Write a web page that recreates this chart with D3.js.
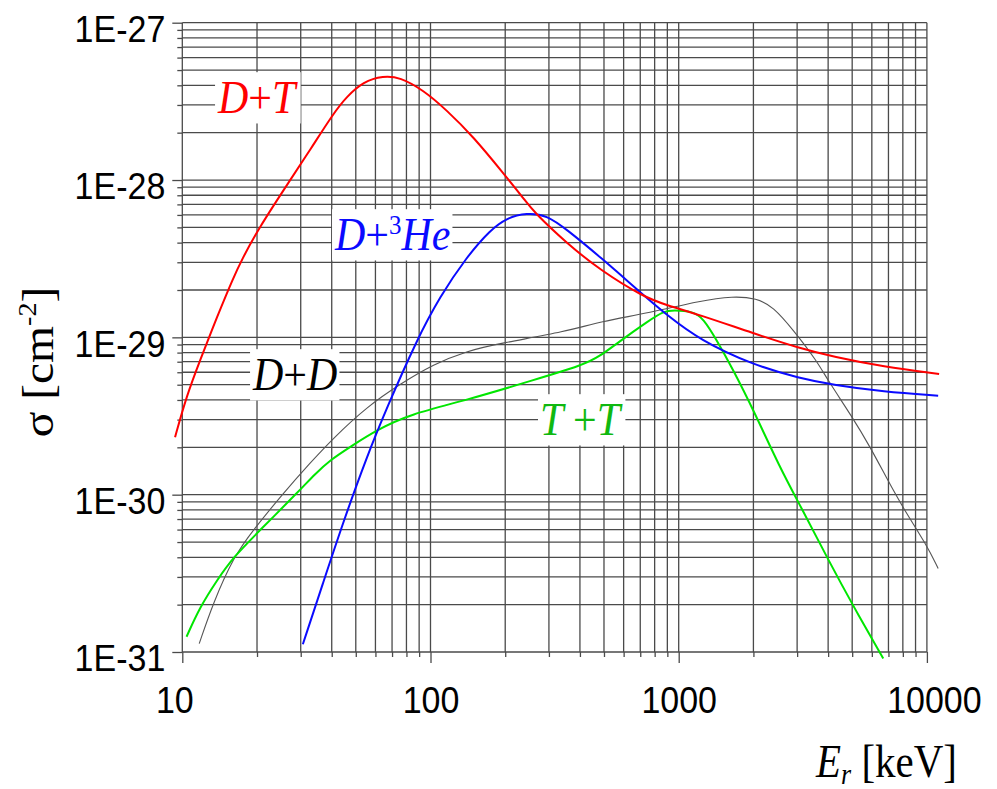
<!DOCTYPE html>
<html>
<head>
<meta charset="utf-8">
<script src="https://cdn.jsdelivr.net/npm/d3@7"></script>
<style>
  body { margin: 0; background: #fff; }
  svg { display: block; }
  .tick text { font-family: "Liberation Sans", Arial, sans-serif; font-size: 34px; fill: #000; }
  .serif { font-family: "Liberation Serif", "Times New Roman", serif; }
</style>
</head>
<body>
<svg id="chart" width="997" height="789"></svg>
<script>
// energy (keV) and cross-section (cm^2)
const energyDT = [9.35, 10.4, 11.8, 13.8, 16.1, 17.35, 20.1, 27.2, 32.7, 40.6, 46.0, 53.6, 64.5, 75.4, 93.5, 116, 149, 197, 240, 260, 354, 482, 720, 895, 1218, 2000, 3080, 4200, 6670, 11200];
const sigmaDT = [2.32e-30, 4.24e-30, 7.18e-30, 1.35e-29, 2.42e-29, 3.10e-29, 4.81e-29, 1.0e-28, 1.55e-28, 2.65e-28, 3.39e-28, 4.22e-28, 4.60e-28, 4.50e-28, 3.73e-28, 2.79e-28, 1.88e-28, 1.10e-28, 7.46e-29, 6.29e-29, 3.96e-29, 2.68e-29, 1.81e-29, 1.60e-29, 1.39e-29, 1.06e-29, 8.51e-30, 7.53e-30, 6.50e-30, 5.85e-30];

const energyDHe = [30.6, 37.0, 44.5, 55.3, 66.6, 88.0, 109, 140, 174, 203, 244, 294, 354, 482, 720, 895, 1218, 2000, 3080, 4200, 6670, 11100];
const sigmaDHe = [1.12e-31, 2.78e-31, 6.70e-31, 1.73e-30, 3.55e-30, 9.61e-30, 1.81e-29, 3.25e-29, 4.81e-29, 5.75e-29, 6.18e-29, 5.99e-29, 4.85e-29, 3.25e-29, 1.86e-29, 1.39e-29, 9.61e-30, 6.67e-30, 5.49e-30, 4.98e-30, 4.51e-30, 4.26e-30];

const energyDD = [11.7, 13.3, 16.1, 19.3, 25.5, 32.7, 40.6, 55.3, 75.4, 103, 140, 190, 354, 482, 766, 1218, 1660, 2060, 2400, 2900, 3600, 4000, 4980, 5900, 6890, 8030, 9980, 11100];
const sigmaDD = [1.13e-31, 2.04e-31, 4.03e-31, 5.96e-31, 1.02e-30, 1.59e-30, 2.29e-30, 3.61e-30, 5.05e-30, 6.76e-30, 8.18e-30, 9.16e-30, 1.09e-29, 1.26e-29, 1.43e-29, 1.71e-29, 1.83e-29, 1.77e-29, 1.57e-29, 1.11e-29, 7.1e-30, 5.3e-30, 3.15e-30, 2.02e-30, 1.27e-30, 8.19e-31, 4.79e-31, 3.40e-31];

const energyTT = [10.4, 11.8, 13.8, 16.1, 20.6, 29.8, 34.2, 39.4, 47.4, 60.7, 82.7, 140, 260, 413, 482, 563, 766, 867, 951, 1145, 1256, 1423, 1660, 2000, 2560, 3080, 4070, 5050, 6670];
const sigmaTT = [1.25e-31, 1.94e-31, 2.86e-31, 4.03e-31, 5.96e-31, 1.07e-30, 1.35e-30, 1.66e-30, 2.01e-30, 2.58e-30, 3.25e-30, 3.99e-30, 5.35e-30, 6.67e-30, 7.6e-30, 9.16e-30, 1.29e-29, 1.46e-29, 1.49e-29, 1.46e-29, 1.32e-29, 9.61e-30, 6.19e-30, 3.45e-30, 1.48e-30, 8.59e-31, 3.67e-31, 1.96e-31, 9.1e-32];

const xMajor = [10, 100, 1000, 10000];
const yMajor = [1e-31, 1e-30, 1e-29, 1e-28, 1e-27];

const svg = d3.select("#chart");

const x = d3.scaleLog().domain([10, 10000]).range([182.3, 926.9]);
const y = d3.scaleLog().domain([1e-31, 1e-27]).range([652, 22.7]);

const xAll = x.ticks();
const yAll = y.ticks();
const xMinor = xAll.filter(v => !xMajor.includes(v));
const yMinor = yAll.filter(v => !yMajor.some(m => Math.abs(m - v) / m < 1e-6));

// grid
const grid = svg.append("g").attr("stroke", "#4a4a4a").attr("stroke-width", 1.3);
grid.selectAll("line.v").data(xAll).join("line")
    .attr("class", "v")
    .attr("x1", d => x(d)).attr("x2", d => x(d))
    .attr("y1", y.range()[1]).attr("y2", y.range()[0]);
grid.selectAll("line.h").data(yAll).join("line")
    .attr("class", "h")
    .attr("x1", x.range()[0]).attr("x2", x.range()[1])
    .attr("y1", d => y(d)).attr("y2", d => y(d));

// axes: major ticks with labels, minor ticks without
const xAxis = svg.append("g").attr("transform", `translate(0,${y.range()[0]})`)
    .call(d3.axisBottom(x).tickValues(xMajor).tickSize(11).tickFormat(d3.format("d")));
svg.append("g").attr("transform", `translate(0,${y.range()[0]})`)
    .call(d3.axisBottom(x).tickValues(xMinor).tickSize(5).tickFormat(""));
xAxis.selectAll(".tick text")
    .attr("y", 31.5)
    .attr("transform", "scale(1,1.1)")
    .attr("dx", (d, i) => i === 0 ? -8 : i === xMajor.length - 1 ? 7 : 0);

const yAxis = svg.append("g").attr("transform", `translate(${x.range()[0]},0)`)
    .call(d3.axisLeft(y).tickValues(yMajor).tickSize(10).tickPadding(7)
        .tickFormat(d => "1E-" + (-Math.round(Math.log10(d)))));
svg.append("g").attr("transform", `translate(${x.range()[0]},0)`)
    .call(d3.axisLeft(y).tickValues(yMinor).tickSize(5).tickFormat(""));
yAxis.selectAll(".tick text").attr("dy", "0.5em").attr("transform", "scale(1,1.1)");

svg.selectAll(".domain").remove();
svg.selectAll(".tick line").attr("stroke", "#4a4a4a").attr("stroke-width", 1.3);

// curve labels on white boxes
function label(px, py, color, parts) {
    const g = svg.append("g").attr("transform", `translate(${px},${py}) scale(1,1.1)`);
    const t = g.append("text").attr("class", "serif").attr("font-size", 42).attr("fill", color);
    parts.forEach(p => {
        const s = t.append("tspan").text(p.t)
            .attr("font-style", p.up ? "normal" : "italic");
        if (p.size) s.attr("font-size", p.size);
        if (p.dy) s.attr("dy", p.dy);
    });
    const b = t.node().getBBox();
    g.insert("rect", "text")
        .attr("x", b.x - 2).attr("y", b.y)
        .attr("width", b.width + 4).attr("height", b.height)
        .attr("fill", "#fff");
}
label(218, 113, "#ff0000", [{t: "D"}, {t: "+", up: true}, {t: "T"}]);
label(335, 250, "#0a0aff", [{t: "D"}, {t: "+", up: true}, {t: "3", up: true, size: 25, dy: -15}, {t: "He", dy: 15}]);
label(253, 390, "#000", [{t: "D"}, {t: "+", up: true}, {t: "D"}]);
label(540, 435, "#10b810", [{t: "T "}, {t: "+", up: true}, {t: "T"}]);

// curves
const line = d3.line()
    .x(d => x(d[0]))
    .y(d => y(d[1]))
    .curve(d3.curveBasis);

const series = [
    {e: energyDD, s: sigmaDD, color: "#555", w: 1.1},
    {e: energyTT, s: sigmaTT, color: "#00e600", w: 2},
    {e: energyDHe, s: sigmaDHe, color: "#0a0aff", w: 2},
    {e: energyDT, s: sigmaDT, color: "#ff0000", w: 2}
];
svg.append("g").selectAll("path").data(series).join("path")
    .attr("d", d => line(d.e.map((v, i) => [v, d.s[i]])))
    .attr("fill", "none")
    .attr("stroke", d => d.color)
    .attr("stroke-width", d => d.w);

// axis titles
const yt = svg.append("text").attr("class", "serif")
    .attr("transform", "translate(53,362) rotate(-90) scale(1.08,1)")
    .attr("text-anchor", "middle").attr("font-size", 44);
yt.append("tspan").text("σ  [cm");
yt.append("tspan").text("-2").attr("font-size", 26).attr("dy", -17);
yt.append("tspan").text("]").attr("dy", 17);

const xt = svg.append("g").attr("transform", "translate(816,777) scale(1,1.12)");
const xtt = xt.append("text").attr("class", "serif").attr("font-size", 41);
xtt.append("tspan").text("E").attr("font-style", "italic");
xtt.append("tspan").text("r").attr("font-style", "italic").attr("font-size", 26).attr("dy", 6);
xtt.append("tspan").text(" [keV]").attr("dy", -6);
</script>
</body>
</html>
